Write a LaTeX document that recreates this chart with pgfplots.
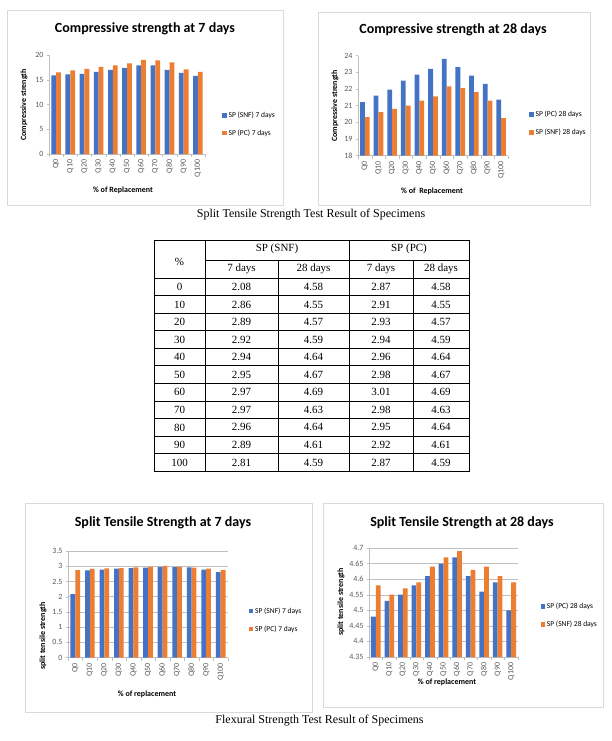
\documentclass[border=0pt]{standalone}
\usepackage{pgfplots}
\pgfplotsset{compat=1.18}
\usepackage{fontspec}
\setmainfont{Liberation Serif}
\newfontfamily\calfont{Carlito}
\definecolor{xblue}{HTML}{4472C4}
\definecolor{xorange}{HTML}{ED7D31}
\definecolor{xgray}{HTML}{595959}
\definecolor{xline}{HTML}{BFBFBF}
\definecolor{xframe}{HTML}{D9D9D9}

\pgfplotsset{
  xlbar/.style={
    scale only axis, anchor=south west,
    ybar=0pt, bar width=4.8pt,
    xmin=-0.5, xmax=10.5,
    xtick={0,...,10},
    xticklabels={Q0,Q10,Q20,Q30,Q40,Q50,Q60,Q70,Q80,Q90,Q100},
    x tick label style={rotate=90, anchor=east, font=\calfont\fontsize{8}{9}\selectfont, text=xgray},
    y tick label style={font=\calfont\fontsize{8}{9}\selectfont, text=xgray},
    /pgf/number format/assume math mode=true,
    major x tick style={draw=none},
    minor xtick={-0.5,0.5,...,10.5},
    minor x tick style={draw=xline},
    axis x line*=bottom, axis y line*=left,
    axis line style={draw=xline, -},
    ytick style={draw=xline},
    tick align=outside, major tick length=2pt, minor tick length=3pt,
    legend cell align=left,
    legend style={draw=none, fill=none, font=\calfont\fontsize{7.5}{8}\selectfont,
      row sep=7pt, anchor=west},
    legend image code/.code={\fill[##1, draw=none] (0pt,-2.2pt) rectangle (4.4pt,2.2pt);},
  },
}
\newcommand\ttl[1]{\calfont\bfseries\fontsize{14}{16}\selectfont #1}
\newcommand\lbl[1]{\calfont\bfseries\fontsize{8}{9}\selectfont #1}

\begin{document}
\begin{tikzpicture}
\path[use as bounding box] (0,0) rectangle (611pt,-741pt);

% chart frames
\draw[xframe] (7pt,-10pt) rectangle (283pt,-205pt);
\draw[xframe] (318pt,-12pt) rectangle (590pt,-205pt);
\draw[xframe] (25pt,-503pt) rectangle (312pt,-712pt);
\draw[xframe] (323pt,-503pt) rectangle (603pt,-707pt);

% ---- Compressive strength at 7 days
\begin{axis}[xlbar, at={(49pt,-154pt)}, width=156pt, height=99pt,
  ymin=0, ymax=20, ytick={0,5,...,20},
  legend style={at={(1.09,0.3)}}]
\addplot[fill=xblue, draw=none] coordinates {(0,15.9) (1,16.1) (2,16.2) (3,16.6) (4,17.0) (5,17.4) (6,17.9) (7,17.9) (8,17.0) (9,16.4) (10,15.8)};
\addplot[fill=xorange, draw=none] coordinates {(0,16.5) (1,16.9) (2,17.2) (3,17.6) (4,17.9) (5,18.3) (6,19.0) (7,18.9) (8,18.5) (9,17.1) (10,16.6)};
\legend{SP (SNF) 7 days, SP (PC) 7 days}
\end{axis}
\node at (145pt,-29pt) {\ttl{Compressive strength at 7 days}};
\node[rotate=90] at (24pt,-105pt) {\lbl{Compressive strength}};
\node at (123pt,-190pt) {\lbl{\% of Replacement}};

% ---- Compressive strength at 28 days
\begin{axis}[xlbar, at={(358pt,-155.5pt)}, width=150pt, height=100pt,
  ymin=18, ymax=24, ytick={18,...,24},
  legend style={at={(1.12,0.32)}}]
\addplot[fill=xblue, draw=none] coordinates {(0,21.2) (1,21.6) (2,21.95) (3,22.5) (4,22.85) (5,23.2) (6,23.8) (7,23.3) (8,22.8) (9,22.3) (10,21.35)};
\addplot[fill=xorange, draw=none] coordinates {(0,20.3) (1,20.6) (2,20.8) (3,21.0) (4,21.3) (5,21.55) (6,22.15) (7,22.05) (8,21.8) (9,21.3) (10,20.25)};
\legend{SP (PC) 28 days, SP (SNF) 28 days}
\end{axis}
\node at (453pt,-30pt) {\ttl{Compressive strength at 28 days}};
\node[rotate=90] at (335pt,-106pt) {\lbl{Compressive strength}};
\node at (432pt,-191pt) {\lbl{\% of \ Replacement}};

% ---- caption 1
\node[font=\fontsize{12}{14}\selectfont] at (311pt,-215pt) {Split Tensile Strength Test Result of Specimens};

% ---- table
\begin{scope}[font=\fontsize{11}{13}\selectfont, line width=0.6pt]
\draw (154pt,-240pt) rectangle (469pt,-471pt);
\draw (205pt,-240pt) -- (205pt,-471pt);
\draw (349pt,-240pt) -- (349pt,-471pt);
\draw (278pt,-260pt) -- (278pt,-471pt);
\draw (413pt,-260pt) -- (413pt,-471pt);
\draw (205pt,-260pt) -- (469pt,-260pt);
\foreach \k in {0,...,10} \draw (154pt,-278pt-\k*17.55pt) -- (469pt,-278pt-\k*17.55pt);
\node at (179.5pt,-262pt) {\%};
\node at (277pt,-249pt) {SP (SNF)};
\node at (409pt,-249pt) {SP (PC)};
\node at (241.5pt,-268.5pt) {7 days};
\node at (313.5pt,-268.5pt) {28 days};
\node at (381pt,-268.5pt) {7 days};
\node at (441pt,-268.5pt) {28 days};
\foreach \p/\a/\b/\c/\d [count=\i from 0] in {0/2.08/4.58/2.87/4.58, 10/2.86/4.55/2.91/4.55,
  20/2.89/4.57/2.93/4.57, 30/2.92/4.59/2.94/4.59, 40/2.94/4.64/2.96/4.64, 50/2.95/4.67/2.98/4.67,
  60/2.97/4.69/3.01/4.69, 70/2.97/4.63/2.98/4.63, 80/2.96/4.64/2.95/4.64, 90/2.89/4.61/2.92/4.61,
  100/2.81/4.59/2.87/4.59} {
  \node at (179.5pt,-287pt-\i*17.55pt) {\p};
  \node at (241.5pt,-287pt-\i*17.55pt) {\a};
  \node at (313.5pt,-287pt-\i*17.55pt) {\b};
  \node at (381pt,-287pt-\i*17.55pt) {\c};
  \node at (441pt,-287pt-\i*17.55pt) {\d};
}
\end{scope}

% ---- Split tensile strength at 7 days
\begin{axis}[xlbar, at={(68pt,-657.5pt)}, width=160pt, height=106.5pt,
  ymin=0, ymax=3.5, ytick={0,0.5,...,3.5},
  ymajorgrids, major grid style={draw=xline},
  legend style={at={(1.11,0.35)}}]
\addplot[fill=xblue, draw=none] coordinates {(0,2.08) (1,2.86) (2,2.89) (3,2.92) (4,2.94) (5,2.95) (6,2.97) (7,2.97) (8,2.96) (9,2.89) (10,2.81)};
\addplot[fill=xorange, draw=none] coordinates {(0,2.87) (1,2.91) (2,2.93) (3,2.94) (4,2.96) (5,2.98) (6,3.01) (7,2.98) (8,2.95) (9,2.92) (10,2.87)};
\legend{SP (SNF) 7 days, SP (PC) 7 days}
\end{axis}
\node at (163pt,-523pt) {\ttl{Split Tensile Strength at 7 days}};
\node[rotate=90] at (43pt,-636pt) {\lbl{split tensile strength}};
\node at (147pt,-694pt) {\lbl{\% of replacement}};

% ---- Split tensile strength at 28 days
\begin{axis}[xlbar, at={(369pt,-657pt)}, width=149pt, height=109pt,
  ymin=4.35, ymax=4.7, ytick={4.35,4.4,4.45,4.5,4.55,4.6,4.65,4.7},
  yticklabels={4.35,4.4,4.45,4.5,4.55,4.6,4.65,4.7},
  ymajorgrids, major grid style={draw=xline},
  legend style={at={(1.13,0.38)}}]
\addplot[fill=xblue, draw=none] coordinates {(0,4.48) (1,4.53) (2,4.55) (3,4.58) (4,4.61) (5,4.65) (6,4.67) (7,4.61) (8,4.56) (9,4.59) (10,4.50)};
\addplot[fill=xorange, draw=none] coordinates {(0,4.58) (1,4.55) (2,4.57) (3,4.59) (4,4.64) (5,4.67) (6,4.69) (7,4.63) (8,4.64) (9,4.61) (10,4.59)};
\legend{SP (PC) 28 days, SP (SNF) 28 days}
\end{axis}
\node at (462pt,-523pt) {\ttl{Split Tensile Strength at 28 days}};
\node[rotate=90] at (341pt,-602pt) {\lbl{split tensile strength}};
\node at (447pt,-682pt) {\lbl{\% of replacement}};

% ---- caption 2
\node[font=\fontsize{12}{14}\selectfont] at (319.5pt,-721pt) {Flexural Strength Test Result of Specimens};
\end{tikzpicture}
\end{document}
